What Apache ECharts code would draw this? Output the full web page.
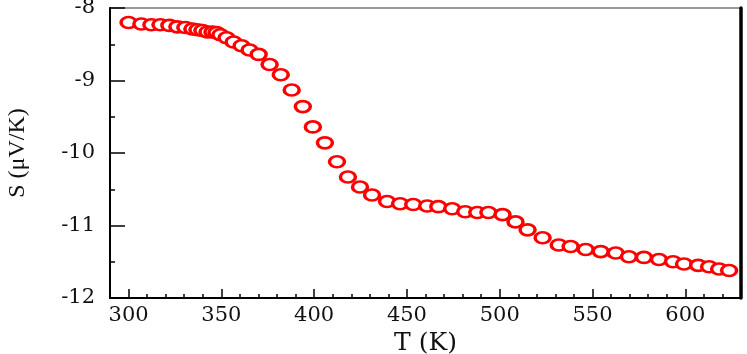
<!DOCTYPE html>
<html>
<head>
<meta charset="utf-8">
<title>S-T</title>
<script src="https://cdn.jsdelivr.net/npm/echarts@6/dist/echarts.min.js"></script>
<style>
	html, body { margin: 0; padding: 0; background: #fff; }
	#chart { width: 747px; height: 354px; }
</style>
</head>
<body>
<div id="chart"></div>
<script>
/*温度 T (K)*/
var tempData = [300.0, 306.9, 312.3, 317.2, 322.0, 326.3, 330.6, 334.4, 337.1, 339.8,
	342.5, 345.2, 347.4, 349.5, 352.8, 356.6, 360.9, 365.2, 370.1, 376.0,
	382.0, 387.9, 393.9, 399.3, 405.8, 412.3, 418.2, 424.7, 431.2, 439.3,
	446.3, 453.4, 460.9, 466.9, 474.4, 481.4, 487.9, 493.9, 501.5, 508.5,
	515.0, 523.1, 531.8, 538.2, 546.3, 554.4, 562.5, 569.6, 577.7, 585.8,
	593.4, 599.3, 606.9, 612.8, 618.2, 623.6];
/*塞贝克系数 S (μV/K)*/
var seebeckData = [-8.20, -8.22, -8.23, -8.23, -8.24, -8.26, -8.27, -8.29, -8.30, -8.31,
	-8.33, -8.33, -8.34, -8.37, -8.41, -8.47, -8.52, -8.58, -8.64, -8.78,
	-8.92, -9.13, -9.36, -9.64, -9.86, -10.12, -10.33, -10.47, -10.58, -10.67,
	-10.70, -10.71, -10.73, -10.74, -10.77, -10.81, -10.82, -10.82, -10.85, -10.95,
	-11.06, -11.17, -11.27, -11.29, -11.33, -11.36, -11.38, -11.43, -11.44, -11.47,
	-11.50, -11.53, -11.55, -11.57, -11.60, -11.62];
/*坐标轴刻度*/
var xMajorTicks = [300, 350, 400, 450, 500, 550, 600];
var xRange = [290, 630];
var yRange = [-12, -8];

var points = [];
for(var i = 0; i < tempData.length; i++) {
	points.push([tempData[i], seebeckData[i]]);
}

var gridTop = 8, gridBottom = 56;
var gridHeight = 354 - gridTop - gridBottom;
var serifFont = "DejaVu Serif";

var option = {
	animation: false,
	backgroundColor: '#fff',
	grid: {
		left: 110,
		right: 6,
		top: gridTop,
		bottom: gridBottom,
		outerBoundsMode: 'none',
		containLabel: false,
		show: true,
		borderColor: '#999',
		borderWidth: 2
	},
	xAxis: [{
		/*底部坐标轴：小刻度 + 标签*/
		type: 'value',
		position: 'bottom',
		min: xRange[0],
		max: xRange[1],
		interval: 10,
		name: 'T (K)',
		nameLocation: 'middle',
		nameGap: 28,
		nameTextStyle: {
			fontFamily: serifFont,
			fontSize: 25,
			color: '#111'
		},
		axisLine: {
			show: true,
			lineStyle: { color: '#000', width: 2 }
		},
		axisTick: {
			show: true,
			inside: true,
			length: 4,
			lineStyle: { color: '#000', width: 1.5 }
		},
		axisLabel: {
			margin: 7,
			fontFamily: serifFont,
			fontSize: 21,
			color: '#111',
			formatter: function(v) {
				return (v % 50 === 0 && v >= 300 && v <= 600) ? String(v) : '';
			}
		},
		splitLine: { show: false }
	}, {
		/*大刻度：借用顶部坐标轴移到底部*/
		type: 'value',
		position: 'top',
		offset: -gridHeight,
		min: xRange[0],
		max: xRange[1],
		axisLine: { show: false },
		axisTick: {
			show: true,
			inside: false,
			length: 9,
			customValues: xMajorTicks,
			lineStyle: { color: '#000', width: 1.5 }
		},
		axisLabel: { show: false },
		splitLine: { show: false }
	}],
	yAxis: [{
		type: 'value',
		position: 'left',
		min: yRange[0],
		max: yRange[1],
		interval: 1,
		name: 'S (μV/K)',
		nameLocation: 'middle',
		nameRotate: 90,
		nameGap: 80,
		nameTextStyle: {
			fontFamily: 'Liberation Serif',
			fontSize: 24,
			color: '#111'
		},
		axisLine: {
			show: true,
			lineStyle: { color: '#000', width: 2 }
		},
		axisTick: {
			show: true,
			inside: true,
			length: 15,
			lineStyle: { color: '#000', width: 1.5 }
		},
		minorTick: {
			show: true,
			splitNumber: 2,
			length: 5,
			lineStyle: { color: '#000', width: 1.5 }
		},
		axisLabel: {
			margin: 15,
			fontFamily: serifFont,
			fontSize: 21,
			color: '#111'
		},
		splitLine: { show: false }
	}, {
		/*右边框*/
		type: 'value',
		position: 'right',
		min: yRange[0],
		max: yRange[1],
		axisLine: {
			show: true,
			lineStyle: { color: '#000', width: 3.5 }
		},
		axisTick: { show: false },
		axisLabel: { show: false },
		splitLine: { show: false }
	}],
	series: [{
		name: 'S',
		type: 'scatter',
		xAxisIndex: 0,
		yAxisIndex: 0,
		symbol: 'circle',
		symbolSize: [15, 11],
		itemStyle: {
			color: '#fff',
			borderColor: '#ff0000',
			borderWidth: 3,
			opacity: 1
		},
		data: points
	}]
};

var chart = echarts.init(document.getElementById('chart'));
chart.setOption(option);
</script>
</body>
</html>
